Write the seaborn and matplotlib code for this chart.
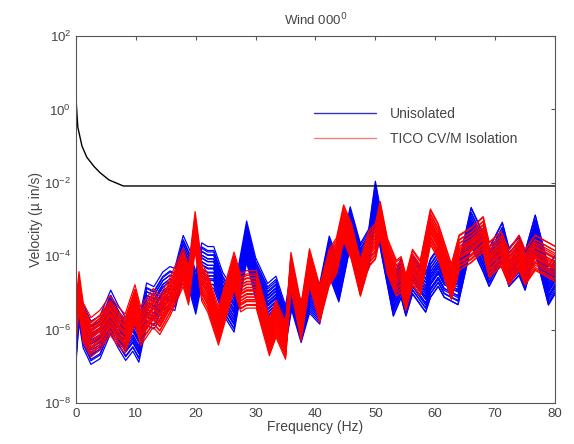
import numpy as np
import pandas as pd
import matplotlib
matplotlib.use("Agg")
import matplotlib.pyplot as plt
import seaborn as sns

# Frequency nodes (Hz) and centre log10 velocity of each bundle
blue_freq = [0, 0.5, 1.2, 2.5, 4, 5.8, 7, 8.3, 9.5, 10.5, 11.8, 13, 14.5, 15.7, 16.5,
             17.9, 19, 20, 21, 22, 23, 24.5, 26.4, 28.5, 30, 32, 33.4, 35, 36, 37.6,
             39, 40.7, 42.3, 43.9, 45.8, 47.5, 48.9, 50, 51, 53, 54.3, 55.1, 56.2,
             58.4, 59.2, 60.5, 61.5, 63.8, 66, 68, 69, 71.2, 72.3, 74, 75, 76.7, 78.9, 80]
blue_log = [-6.3, -5.2, -5.9, -6.35, -6.2, -5.5, -5.9, -6.25, -6.0, -6.3, -5.3, -5.4, -5.0,
            -4.85, -4.9, -4.0, -4.4, -5.0, -4.2, -4.3, -4.3, -5.0, -5.5, -3.6, -4.6, -5.3,
            -5.1, -5.9, -4.9, -5.8, -5.0, -5.3, -4.0, -4.7, -3.2, -4.2, -3.8, -2.5, -3.4,
            -5.1, -4.6, -5.1, -4.5, -5.0, -4.6, -4.3, -4.6, -4.8, -3.2, -3.9, -4.3, -3.6,
            -4.3, -4.0, -4.4, -3.4, -4.8, -4.5]

red_freq = [0, 0.5, 1.2, 2.5, 4, 5.7, 7, 8.2, 9.85, 10.8, 12.9, 14, 15.7, 17.9, 18.8,
            19.9, 21, 22, 23.8, 26.4, 27.5, 28.5, 30.1, 32.3, 33.4, 35, 35.9, 37.6, 39,
            40.7, 42.3, 43.5, 44.7, 46, 47.5, 48.9, 50, 50.8, 52, 53.5, 54.3, 55.1, 56.2,
            57.5, 59.2, 60.5, 62.7, 64, 66, 68, 69, 71, 72.3, 74, 75, 76.7, 78.9, 80]
red_log = [-5.8, -4.95, -5.8, -6.2, -6.0, -5.6, -5.9, -6.1, -5.3, -5.9, -5.4, -5.6, -5.1,
           -4.3, -4.8, -3.3, -4.7, -5.0, -5.9, -4.4, -5.0, -4.9, -4.9, -6.2, -5.7, -6.3,
           -4.4, -5.8, -4.3, -5.3, -4.3, -4.0, -3.1, -3.6, -4.6, -3.8, -3.6, -3.0, -4.0,
           -4.6, -4.5, -5.0, -4.3, -4.6, -3.2, -3.6, -4.7, -3.9, -3.7, -3.4, -4.1, -3.8,
           -4.3, -3.9, -4.3, -3.9, -4.1, -4.2]

# Spread of the individual spectra inside each bundle (decades)
blue_halfwidth = 0.55
red_halfwidth = 0.5
line_offsets = [-1.0, -0.9, -0.8, -0.71, -0.62, -0.54, -0.46, -0.38, -0.3, -0.22, -0.14,
                -0.07, 0.0, 0.07, 0.14, 0.22, 0.3, 0.38, 0.46, 0.55, 0.64, 0.74, 0.86, 1.0]
line_tilts = [0.1, -0.08, 0.12, -0.12, 0.04, 0.08, -0.1, 0.15, -0.04, 0.06, -0.15, 0.0,
              0.1, -0.06, 0.12, -0.12, 0.04, -0.08, 0.1, -0.1, 0.06, -0.04, 0.08, -0.06]

# Criterion curve (black)
crit_freq = [0, 0.3, 1.0, 1.8, 3.0, 4.0, 5.5, 7.9, 80]
crit_vel = [2.0, 0.33, 0.1, 0.05, 0.028, 0.019, 0.012, 0.0082, 0.0082]


def bundle(freq, logv, hw, name):
    rows = []
    f = np.array(freq)
    base = np.array(logv)
    for i, (off, tilt) in enumerate(zip(line_offsets, line_tilts)):
        vals = base + off * hw + tilt * (f / 80.0 - 0.5)
        for fi, vi in zip(f, vals):
            rows.append({"freq": fi, "vel": 10 ** vi, "line": f"{name}{i}"})
    return pd.DataFrame(rows)


df_blue = bundle(blue_freq, blue_log, blue_halfwidth, "b")
df_red = bundle(red_freq, red_log, red_halfwidth, "r")

sns.set_style("white")
plt.rcParams["font.family"] = ["Liberation Sans", "DejaVu Sans"]
txt = "#444444"

fig = plt.figure(figsize=(5.74, 4.44), dpi=100)
ax = fig.add_axes([0.1324, 0.0923, 0.8345, 0.8266])

sns.lineplot(data=df_blue, x="freq", y="vel", units="line", estimator=None,
             color="#0000ff", lw=0.9, ax=ax)
sns.lineplot(data=df_red, x="freq", y="vel", units="line", estimator=None,
             color="#ff0000", lw=0.9, ax=ax)
sns.lineplot(x=crit_freq, y=crit_vel, color="black", lw=1.0, ax=ax)

ax.set_yscale("log")
ax.set_xlim(0, 80)
ax.set_ylim(1e-8, 1e2)
ax.set_xticks(range(0, 81, 10))
ax.set_yticks([1e-8, 1e-6, 1e-4, 1e-2, 1e0, 1e2])
ax.minorticks_off()
ax.tick_params(direction="in", length=3, top=True, right=True, labelsize=9.5,
               colors="#555555", labelcolor=txt)
for s in ax.spines.values():
    s.set_color("#555555")
    s.set_linewidth(0.8)

ax.set_xlabel("Frequency (Hz)", fontsize=10, color=txt, labelpad=0)
ax.set_ylabel("Velocity (\u00b5 in/s)", fontsize=10, color=txt, labelpad=1)
ax.set_title("Wind 000$^0$", fontsize=9.5, color=txt, pad=8)

h1, = ax.plot([], [], color="#3333bb", lw=1.0)
h2, = ax.plot([], [], color="#f08080", lw=1.0)
leg = ax.legend([h1, h2], ["Unisolated", "TICO CV/M Isolation"], loc="upper left",
                bbox_to_anchor=(0.47, 0.84), frameon=False, fontsize=10,
                handlelength=4.5, handletextpad=1.0, labelspacing=0.75)
for t in leg.get_texts():
    t.set_color(txt)

fig.savefig("out.png", dpi=100)
